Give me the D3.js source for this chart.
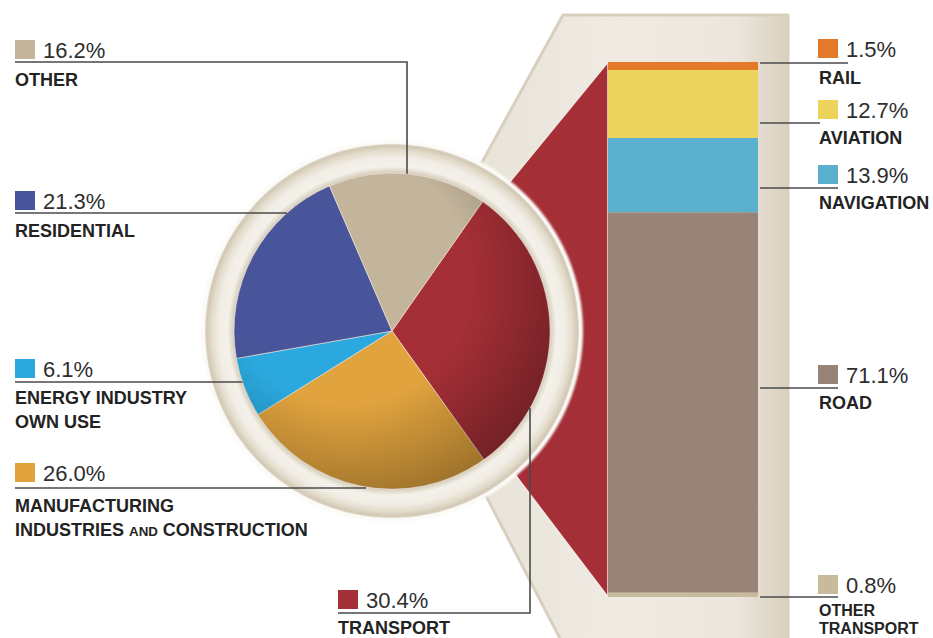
<!DOCTYPE html>
<html><head><meta charset="utf-8">
<script src="https://cdn.jsdelivr.net/npm/d3@7"></script>
<style>body{margin:0;background:#fff}svg{display:block}</style>
</head><body><svg id="c" width="933" height="638"></svg>
<script>
// ---------- DATA ----------
const sectors = ["TRANSPORT", "MANUFACTURING", "ENERGY", "RESIDENTIAL", "OTHER"];
const sectorValues = [30.4, 26.0, 6.1, 21.3, 16.2];
const sectorColors = ["#a52f36", "#e1a33e", "#2ba9de", "#48559a", "#c3b59b"];
const sectorNames = [
  ["TRANSPORT"],
  ["MANUFACTURING", "INDUSTRIES |AND| CONSTRUCTION"],
  ["ENERGY INDUSTRY", "OWN USE"],
  ["RESIDENTIAL"],
  ["OTHER"]
];
const modes = ["RAIL", "AVIATION", "NAVIGATION", "ROAD", "OTHER TRANSPORT"];
const modeValues = [1.5, 12.7, 13.9, 71.1, 0.8];
const modeColors = ["#e27a2a", "#ecd35c", "#5bafcf", "#978477", "#c8bb9c"];
const modeNames = [["RAIL"], ["AVIATION"], ["NAVIGATION"], ["ROAD"], ["OTHER", "TRANSPORT"]];

// ---------- LAYOUT ----------
const svg = d3.select("#c");
const cx = 392, cy = 331, R = 158;
const fmt = v => d3.format(".1f")(v) + "%";
const defs = svg.append("defs");

const ringG = defs.append("radialGradient").attr("id", "ring")
  .attr("gradientUnits", "userSpaceOnUse").attr("cx", cx).attr("cy", cy).attr("r", 188);
[[0.80, "#d6cdbb"], [0.845, "#d9d1c0"], [0.875, "#f4f1ea"], [0.92, "#f2eee6"], [0.96, "#e3dccc"], [0.985, "#d2c8b4"], [1, "#ebe6dd"]]
  .forEach(([o, c]) => ringG.append("stop").attr("offset", o).attr("stop-color", c));

const shade = defs.append("radialGradient").attr("id", "shade")
  .attr("cx", "0.36").attr("cy", "0.34").attr("r", "0.78");
shade.append("stop").attr("offset", 0.5).attr("stop-color", "#000").attr("stop-opacity", 0);
shade.append("stop").attr("offset", 1).attr("stop-color", "#000").attr("stop-opacity", 0.36);

const bezG = defs.append("linearGradient").attr("id", "bez").attr("x1", 0).attr("x2", 1).attr("y1", 0).attr("y2", 0);
[[0, "#e6e0d3"], [0.5, "#efebe3"], [0.85, "#ece7de"], [1, "#d9d0bf"]]
  .forEach(([o, c]) => bezG.append("stop").attr("offset", o).attr("stop-color", c));

const blur = defs.append("filter").attr("id", "blur").attr("x", "-10%").attr("y", "-10%").attr("width", "120%").attr("height", "120%");
blur.append("feGaussianBlur").attr("stdDeviation", 1.2);

// bar scale
const barX0 = 608, barX1 = 758;
const y = d3.scaleLinear().domain([0, 100]).range([62, 597]);

// bezel (cream frame)
const line = d3.line();
svg.append("path").attr("d", line([[563, 15], [788, 15], [788, 650], [566, 650], [430, 388], [430, 257]]) + "Z")
  .attr("fill", "url(#bez)").attr("stroke", "#d8cfbe").attr("stroke-width", 3).attr("stroke-linejoin", "round");

// red funnel
svg.append("path").attr("d", line([[barX0, y(0)], [barX0, y(100)], [450, 389], [450, 255]]) + "Z")
  .attr("fill", sectorColors[0]).attr("stroke", "#f3e9e4").attr("stroke-width", 1.5);

// stacked bar
const cum = d3.cumsum(modeValues);
const starts = modeValues.map((v, i) => cum[i] - v);
svg.append("g").selectAll("rect").data(modeValues).join("rect")
  .attr("x", barX0).attr("width", barX1 - barX0)
  .attr("y", (d, i) => y(starts[i])).attr("height", d => y(d) - y(0))
  .attr("fill", (d, i) => modeColors[i]);

// ring around pie
svg.append("circle").attr("cx", cx).attr("cy", cy).attr("r", 191).attr("fill", "#fbfaf7").attr("filter", "url(#blur)");
svg.append("circle").attr("cx", cx).attr("cy", cy).attr("r", 187).attr("fill", "url(#ring)");

// pie
const pie = d3.pie().sort(null).startAngle(35 * Math.PI / 180).endAngle(35 * Math.PI / 180 + 2 * Math.PI);
const arc = d3.arc().innerRadius(0).outerRadius(R);
const pg = svg.append("g").attr("transform", `translate(${cx},${cy})`);
pg.selectAll("path").data(pie(sectorValues)).join("path")
  .attr("d", arc).attr("fill", (d, i) => sectorColors[i])
  .attr("stroke", "rgba(255,235,225,0.55)").attr("stroke-width", 1);
pg.append("circle").attr("r", R).attr("fill", "url(#shade)");

// ---------- LABELS ----------
const txt = svg.append("g");
const lines = svg.append("g").attr("stroke", "#4a4a4a").attr("stroke-width", 1.6).attr("fill", "none");
const edgeX = yy => cx - Math.sqrt(Math.max(0, R * R - (yy - cy) * (yy - cy)));

function nameLines(g, x, y0, arr, gap, size, weight) {
  arr.forEach((s, k) => {
    const t = g.append("text").attr("x", x).attr("y", y0 + k * gap)
      .attr("font-family", "Liberation Sans, Arial, sans-serif").attr("font-size", size)
      .attr("font-weight", weight).attr("fill", "#232323");
    s.split("|").forEach((part, j) => {
      t.append("tspan").text(part).attr("font-size", j === 1 ? size * 0.74 : null);
    });
  });
}
function legend(g, x, top, idx, values, colors) {
  g.append("rect").attr("x", x).attr("y", top).attr("width", 20).attr("height", 19).attr("fill", colors[idx]);
  g.append("text").attr("x", x + 28).attr("y", top + 18).text(fmt(values[idx]))
    .attr("font-family", "Liberation Sans, Arial, sans-serif").attr("font-size", 22).attr("fill", "#2e2e2e");
}

// left (sector) labels: [index, x, squareTop, lineY, nameOffset]
const leftLayout = [[4, 15, 40, 62, 24], [3, 15, 191, 213, 24], [2, 15, 359, 382, 22], [1, 15, 463, 488, 24], [0, 338, 590, 613, 21]];
leftLayout.forEach(([i, x, top, ly, off]) => {
  legend(txt, x, top, i, sectorValues, sectorColors);
  nameLines(txt, x, ly + off, sectorNames[i], 24, 18, "bold");
});
// leader lines to pie
const otherX = 407, transX = 530;
lines.append("path").attr("d", line([[15, 62], [otherX, 62], [otherX, cy - Math.sqrt(R * R - (otherX - cx) ** 2)]]));
[213, 382].forEach(ly => lines.append("path").attr("d", line([[15, ly], [edgeX(ly), ly]])));
lines.append("path").attr("d", line([[15, 488], [366, 488]]));
lines.append("path").attr("d", line([[338, 613], [transX, 613], [transX, cy + Math.sqrt(R * R - (transX - cx) ** 2)]]));

// right (transport mode) labels: [index, squareTop, lineY, lineEnd]
const rightLayout = [[0, 39, 63, 848], [1, 100, 123, 820], [2, 165, 188, 838], [3, 365, 388, 838], [4, 575, 597, 838]];
rightLayout.forEach(([i, top, ly, le]) => {
  legend(txt, 818, top, i, modeValues, modeColors);
  if (i === 4) nameLines(txt, 819, ly + 18.5, modeNames[i], 18.5, 16, "bold");
  else nameLines(txt, 819, ly + 21, modeNames[i], 25, 18, "bold");
  lines.append("path").attr("d", line([[barX1 + 2, ly], [le, ly]]));
});
</script></body></html>
